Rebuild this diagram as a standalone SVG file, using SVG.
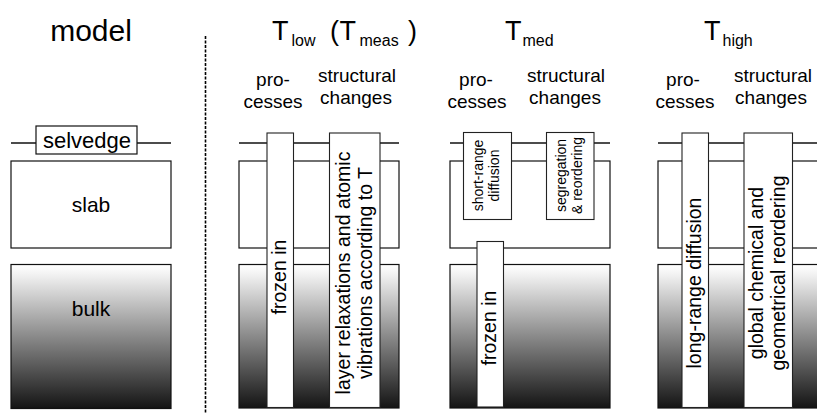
<svg xmlns="http://www.w3.org/2000/svg" width="817" height="413" viewBox="0 0 817 413">
<defs>
<linearGradient id="bulkGrad" x1="0" y1="0" x2="0" y2="1">
<stop offset="0" stop-color="#ffffff"/>
<stop offset="0.06" stop-color="#f4f4f4"/>
<stop offset="0.5" stop-color="#8a8a8a"/>
<stop offset="1" stop-color="#141414"/>
</linearGradient>
<style>
text { font-family: "Liberation Sans", Arial, sans-serif; fill: #000; }
.box { fill: #fff; stroke: #111; stroke-width: 1.2; }
.bulk { fill: url(#bulkGrad); stroke: #111; stroke-width: 1.2; }
.sel { stroke: #111; stroke-width: 1.3; fill: none; }
.bar { fill: #fff; stroke: #222; stroke-width: 1.1; }
.big { font-size: 30px; }
.T { font-size: 27px; }
.sub { font-size: 16px; }
.hdr { font-size: 19px; text-anchor: middle; }
.lbl { font-size: 21px; text-anchor: middle; }
.sv { font-size: 22px; text-anchor: middle; }
.bt { font-size: 19.5px; text-anchor: middle; }
.st { font-size: 14px; text-anchor: middle; }
.dash { stroke: #000; stroke-width: 1.6; stroke-dasharray: 3 1.5; fill: none; }
</style>
</defs>
<rect width="817" height="413" fill="#fff"/>

<g id="model">
<text class="big" x="91" y="41" text-anchor="middle">model</text>
<line class="sel" x1="11" y1="143" x2="171" y2="143"/>
<rect id="selvedge" class="box" x="36" y="126" width="101" height="28"/>
<text class="sv" x="87" y="148">selvedge</text>
<rect id="slab" class="box" x="11" y="161" width="160" height="87"/>
<text class="lbl" x="91" y="212">slab</text>
<rect id="bulk" class="bulk" x="11" y="264.5" width="160" height="144"/>
<text class="lbl" x="91" y="316">bulk</text>
</g>

<line id="divider" class="dash" x1="205.5" y1="36" x2="205.5" y2="413"/>

<g id="connectors"></g>

<g id="T_low">
<text class="T" x="272" y="40">T</text>
<text class="sub" x="291.5" y="45.5">low</text>
<text class="T" x="330" y="40">(</text>
<text class="T" x="339.5" y="40">T</text>
<text class="sub" x="359.5" y="45.5">meas</text>
<text class="T" x="408" y="40">)</text>
<text class="hdr" x="273" y="86">pro-</text>
<text class="hdr" x="273" y="107.5">cesses</text>
<text class="hdr" x="357" y="82">structural</text>
<text class="hdr" x="356" y="103.5">changes</text>
<line class="sel" x1="239" y1="143" x2="399" y2="143"/>
<rect class="box" x="239" y="161" width="160" height="87"/>
<rect class="bulk" x="239" y="264.5" width="160" height="143.5"/>
<rect id="low_proc" class="bar" x="267" y="133" width="26.5" height="274.5"/>
<text class="bt" transform="translate(280,277) rotate(-90)" x="0" y="6">frozen in</text>
<rect id="low_struct" class="bar" x="329.5" y="133" width="50.5" height="274.5"/>
<g transform="translate(354.7,273) rotate(-90)">
<text class="bt" x="0" y="-5">layer relaxations and atomic</text>
<text class="bt" x="0" y="17">vibrations according to T</text>
</g>
</g>

<g id="T_med">
<text class="T" x="505" y="40">T</text>
<text class="sub" x="522.5" y="45.5">med</text>
<text class="hdr" x="476" y="86">pro-</text>
<text class="hdr" x="477" y="107.5">cesses</text>
<text class="hdr" x="566" y="82">structural</text>
<text class="hdr" x="565" y="103.5">changes</text>
<line class="sel" x1="450" y1="143" x2="610" y2="143"/>
<rect class="box" x="450" y="161" width="160" height="87"/>
<rect class="bulk" x="450" y="264.5" width="160" height="143.5"/>
<rect id="med_short" class="bar" x="463.5" y="132.5" width="48" height="87"/>
<g transform="translate(487.5,175.5) rotate(-90)">
<text class="st" x="0" y="-4.5">short-range</text>
<text class="st" x="0" y="11.5">diffusion</text>
</g>
<rect id="med_seg" class="bar" x="546.5" y="132.5" width="47.5" height="87"/>
<g transform="translate(570.3,175.5) rotate(-90)">
<text class="st" x="0" y="-4.5">segregation</text>
<text class="st" x="0" y="11.5">&amp; reordering</text>
</g>
<rect id="med_frozen" class="bar" x="477" y="241.5" width="26.5" height="165.5"/>
<text class="bt" transform="translate(490,328) rotate(-90)" x="0" y="6">frozen in</text>
</g>

<g id="T_high">
<text class="T" x="704" y="40">T</text>
<text class="sub" x="722.5" y="45.5">high</text>
<text class="hdr" x="683" y="86">pro-</text>
<text class="hdr" x="685" y="107.5">cesses</text>
<text class="hdr" x="773" y="82">structural</text>
<text class="hdr" x="771" y="103.5">changes</text>
<line class="sel" x1="658" y1="143" x2="818" y2="143"/>
<rect class="box" x="658" y="161" width="162" height="87"/>
<rect class="bulk" x="658" y="264.5" width="162" height="143.5"/>
<rect id="high_proc" class="bar" x="682" y="133" width="26.5" height="274.5"/>
<text class="bt" transform="translate(695,283) rotate(-90)" x="0" y="6">long-range diffusion</text>
<rect id="high_struct" class="bar" x="744" y="133" width="48.5" height="274.5"/>
<g transform="translate(768.2,273) rotate(-90)">
<text class="bt" x="0" y="-5">global chemical and</text>
<text class="bt" x="0" y="17">geometrical reordering</text>
</g>
</g>
</svg>
